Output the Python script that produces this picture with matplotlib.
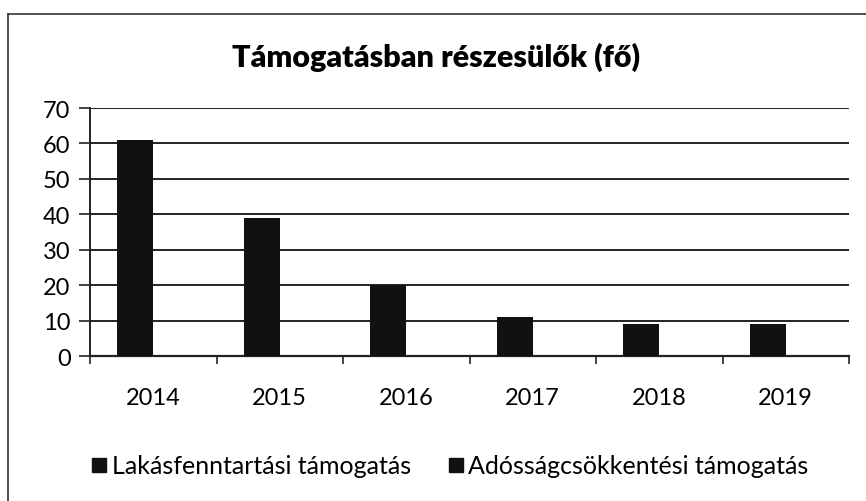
import numpy as np
import matplotlib.pyplot as plt
from matplotlib.lines import Line2D

years = ["2014", "2015", "2016", "2017", "2018", "2019"]
lakas = [61, 39, 20, 11, 9, 9]
adossag = [0, 0, 0, 0, 0, 0]
series_names = ["Lakásfenntartási támogatás", "Adósságcsökkentési támogatás"]
title = "Támogatásban részesülők (fő)"

plt.rcParams['font.family'] = ['Lato', 'DejaVu Sans']

W, H = 866, 502
fig = plt.figure(figsize=(W/100, H/100), dpi=100)
fig.patch.set_facecolor("white")

# plot area in pixels: left 90, right 849, top 109, bottom 357
ax = fig.add_axes([90/W, 1-357/H, (849-90)/W, (357-109)/H])

x = np.arange(len(years))
w = 1/3.5
ax.bar(x - w/2, lakas, w, color="#111111", zorder=3)
ax.bar(x + w/2, adossag, w, color="#111111", zorder=3)

ax.set_xlim(-0.5, len(years)-0.5)
ax.set_ylim(0, 70)
ax.set_yticks(range(0, 71, 10))
ax.yaxis.grid(True, color="#222222", linewidth=1.4, zorder=0)
ax.set_axisbelow(True)

ax.set_xticks(x)
ax.set_xticklabels(years, fontsize=17)
ax.tick_params(axis="x", length=0, pad=22)
ax.tick_params(axis="y", labelsize=17, length=8, width=1.2, pad=6, color="#222222")
# category boundary ticks
ax.set_xticks(np.arange(-0.5, len(years), 1), minor=True)
ax.tick_params(axis="x", which="minor", length=6, width=1.2, color="#222222")

for s in ["top", "right"]:
    ax.spines[s].set_visible(False)
ax.spines["left"].set_color("#222222")
ax.spines["left"].set_linewidth(1.4)
ax.spines["bottom"].set_color("#222222")
ax.spines["bottom"].set_linewidth(1.6)

fig.text(436/W, 1-57/H, title, ha="center", va="center",
         fontsize=22, fontweight="heavy")

handles = [Line2D([], [], marker="s", linestyle="none", markersize=10,
                  color="#111111") for _ in series_names]
fig.legend(handles, series_names, loc="center", bbox_to_anchor=(449/W, 1-467/H),
           ncol=2, frameon=False, fontsize=18, handletextpad=0.1,
           columnspacing=1.4, handlelength=0.8)

# outer chart border (top and left visible)
fig.add_artist(Line2D([8/W, 1], [1-15/H, 1-15/H], color="#333333", linewidth=1.2))
fig.add_artist(Line2D([8/W, 8/W], [1-15/H, 0], color="#333333", linewidth=1.2))

fig.savefig("out.png", dpi=100)
